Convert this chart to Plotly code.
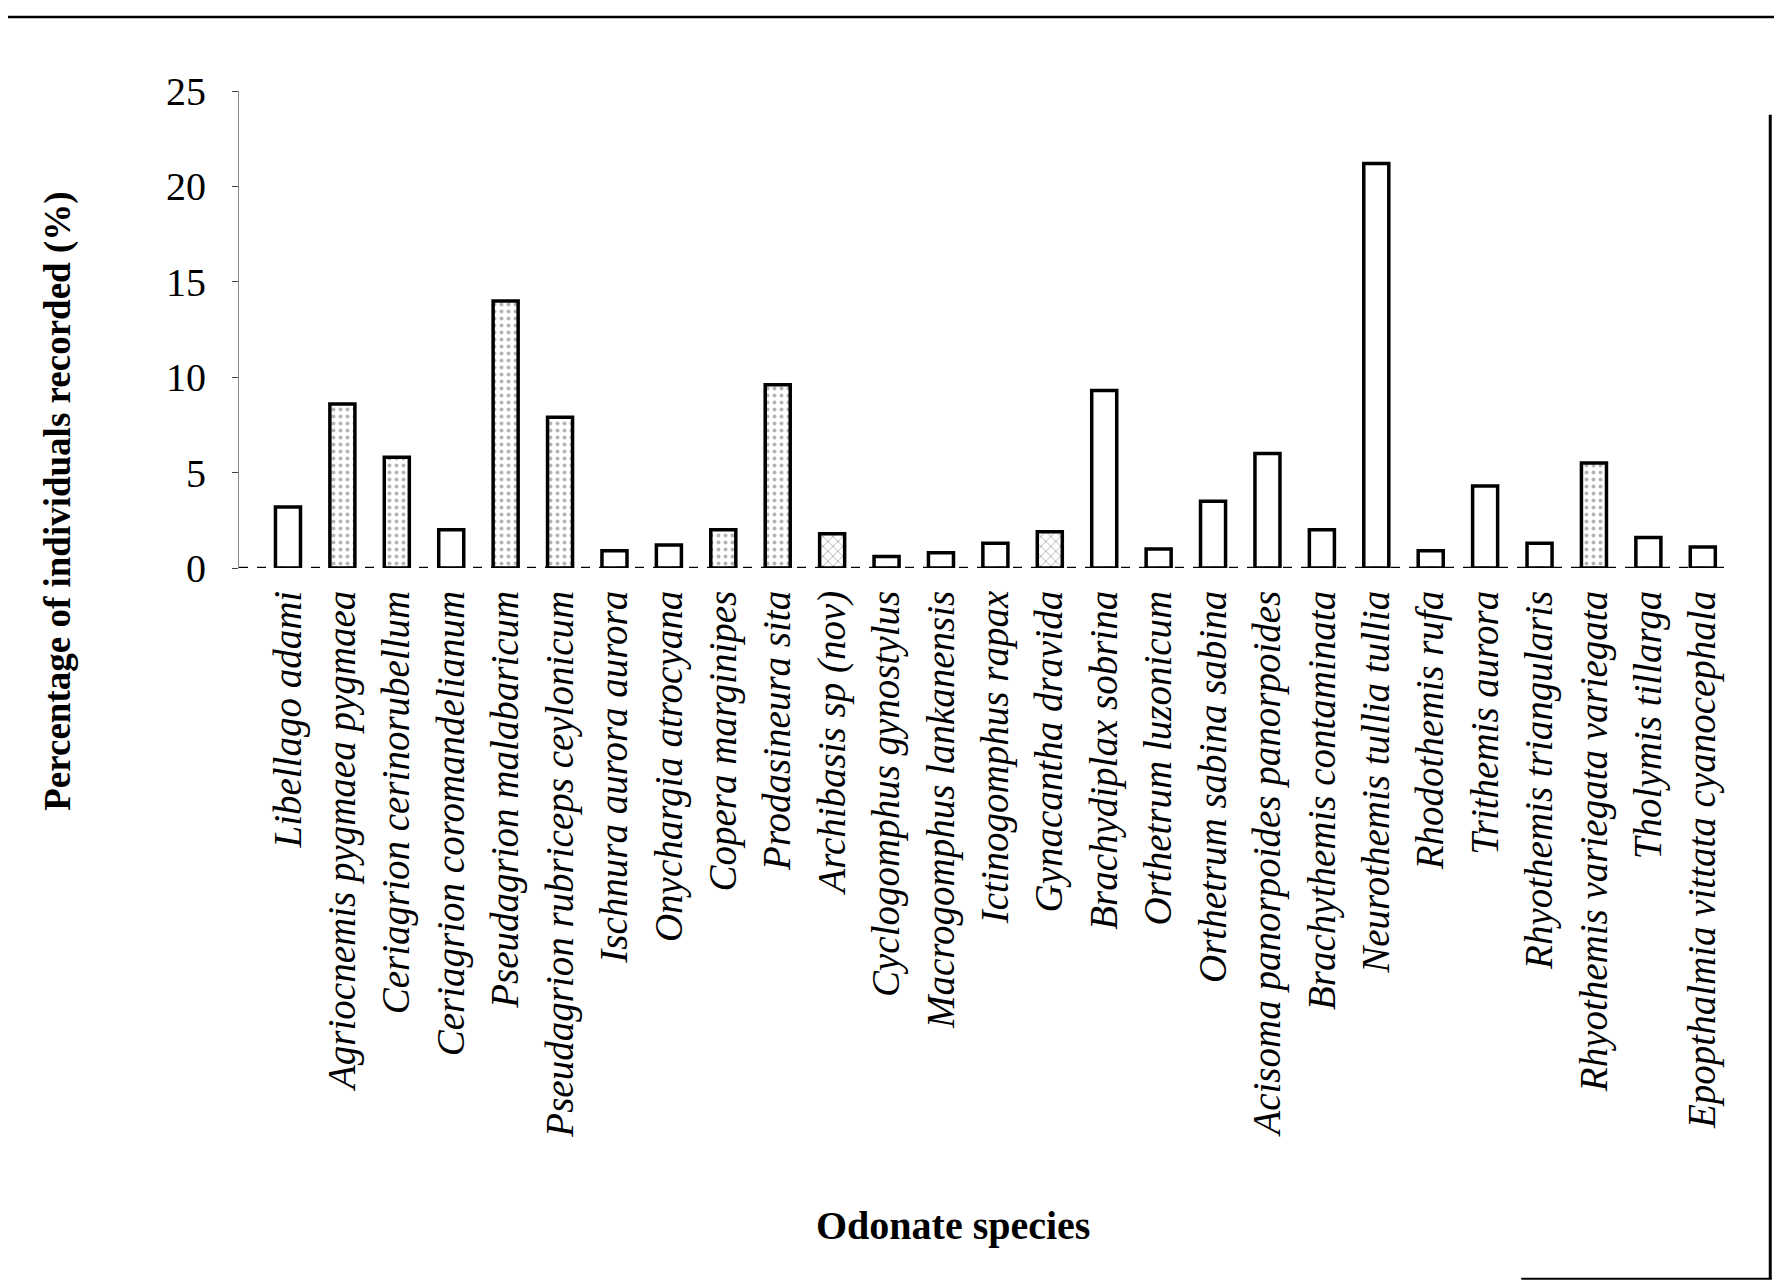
import plotly.graph_objects as go

species = [
    "Libellago adami",
    "Agriocnemis pygmaea pygmaea",
    "Ceriagrion cerinorubellum",
    "Ceriagrion coromandelianum",
    "Pseudagrion malabaricum",
    "Pseudagrion rubriceps ceylonicum",
    "Ischnura aurora aurora",
    "Onychargia atrocyana",
    "Copera marginipes",
    "Prodasineura sita",
    "Archibasis sp (nov)",
    "Cyclogomphus gynostylus",
    "Macrogomphus lankanensis",
    "Ictinogomphus rapax",
    "Gynacantha dravida",
    "Brachydiplax sobrina",
    "Orthetrum luzonicum",
    "Orthetrum sabina sabina",
    "Acisoma panorpoides panorpoides",
    "Brachythemis contaminata",
    "Neurothemis tullia tullia",
    "Rhodothemis rufa",
    "Trithemis aurora",
    "Rhyothemis triangularis",
    "Rhyothemis variegata variegata",
    "Tholymis tillarga",
    "Epopthalmia vittata cyanocephala",
]

percent = [3.2, 8.6, 5.8, 2.0, 14.0, 7.9, 0.9, 1.2, 2.0, 9.6, 1.8, 0.6, 0.8,
           1.3, 1.9, 9.3, 1.0, 3.5, 6.0, 2.0, 21.2, 0.9, 4.3, 1.3, 5.5, 1.6, 1.1]

texture = ["", ".", ".", "", ".", ".", "", "", ".", ".", "x", "", "",
           "", "x", "", "", "", "", "", "", "", "", "", ".", "", ""]

y_ticks = [0, 5, 10, 15, 20, 25]

SERIF = "Liberation Serif, Times New Roman, serif"

fig = go.Figure(
    go.Bar(
        x=species,
        y=percent,
        width=0.46,
        marker=dict(
            color="white",
            line=dict(color="black", width=3.5),
            pattern=dict(shape=texture, fgcolor="#6a6a6a", size=7, solidity=0.25),
        ),
        showlegend=False,
    )
)

fig.update_layout(
    width=1782,
    height=1280,
    margin=dict(l=231, r=60, t=83, b=720),
    paper_bgcolor="white",
    plot_bgcolor="white",
    font=dict(family=SERIF, color="black"),
    xaxis=dict(
        type="category",
        range=[-0.9, 26.5],
        tickangle=-90,
        tickfont=dict(family=SERIF, size=39, style="italic", color="black"),
        ticks="",
        showline=False,
        showgrid=False,
        ticklabelstandoff=14,
    ),
    yaxis=dict(
        range=[0, 25],
        tickvals=y_ticks,
        ticktext=[str(v) for v in y_ticks],
        tickfont=dict(family=SERIF, size=40, color="black"),
        showgrid=False,
        zeroline=False,
        showline=True,
        linecolor="#888888",
        linewidth=1,
        ticks="outside",
        ticklen=6,
        tickcolor="#444444",
        ticklabelstandoff=18,
    ),
    annotations=[
        dict(text="<b>Percentage of individuals recorded (%)</b>",
             xref="paper", yref="paper", x=-0.121, y=0.14,
             xanchor="center", yanchor="middle", textangle=-90, showarrow=False,
             font=dict(family=SERIF, size=37, color="black")),
        dict(text="<b>Odonate species</b>",
             xref="paper", yref="paper", x=0.479, y=-1.379,
             xanchor="center", yanchor="middle", showarrow=False,
             font=dict(family=SERIF, size=40, color="black")),
    ],
    shapes=[
        dict(type="line", xref="paper", yref="y", x0=0, x1=1, y0=0, y1=0,
             line=dict(color="black", width=2.5, dash="dash")),
        dict(type="line", xref="paper", yref="paper", x0=-0.155, x1=1.04,
             y0=1.155, y1=1.155, line=dict(color="black", width=2.5)),
        dict(type="line", xref="paper", yref="paper", x0=1.027, x1=1.027,
             y0=0.95, y1=-1.49, line=dict(color="black", width=3)),
        dict(type="line", xref="paper", yref="paper", x0=0.86, x1=1.028,
             y0=-1.49, y1=-1.49, line=dict(color="black", width=2)),
    ],
)

fig.write_html("out.html")
